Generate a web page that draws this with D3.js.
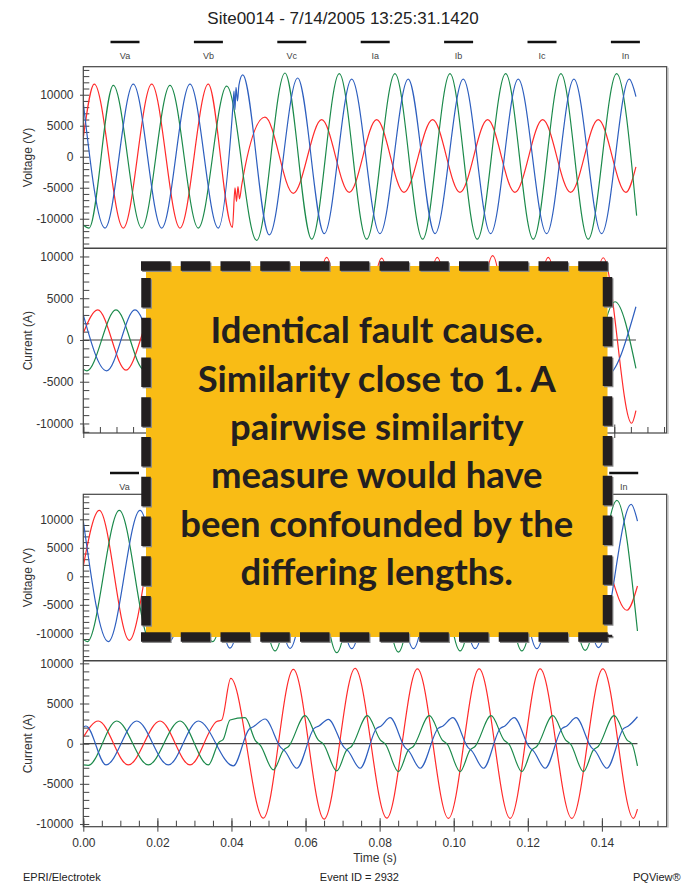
<!DOCTYPE html>
<html>
<head>
<meta charset="utf-8">
<script src="https://cdn.jsdelivr.net/npm/d3@7"></script>
<style>
  html, body { margin: 0; padding: 0; background: #fff; }
  svg { display: block; font-family: "Liberation Sans", Arial, sans-serif; }
</style>
</head>
<body>
<div id="app"></div>
<script>
// ---- data: [time (s), value] turning points ----
const TITLE = 'Site0014 - 7/14/2005 13:25:31.1420';
const legendLabels = ['Va', 'Vb', 'Vc', 'Ia', 'Ib', 'Ic', 'In'];
const valueTicks = [-10000, -5000, 0, 5000, 10000];
const timeTicks = [0, 0.02, 0.04, 0.06, 0.08, 0.10, 0.12, 0.14];
const boxLines = ['Identical fault cause.', 'Similarity close to 1. A', 'pairwise similarity',
  'measure would have', 'been confounded by the', 'differing lengths.'];

// upper event
const topVa = [[0, 3060], [0.00331, 11700], [0.01205, -11500], [0.02061, 11700], [0.02914, -11500],
  [0.03766, 11700], [0.04495, -11400], [0.04571, -5000], [0.04616, -7200], [0.04661, -4800],
  [0.04706, -6800], [0.04773, -4600], [0.05475, 6400], [0.06327, -5900], [0.07183, 5970],
  [0.08014, -5750], [0.0884, 5970], [0.09663, -5750], [0.10527, 5970], [0.1135, -5750],
  [0.12184, 5970], [0.13007, -5750], [0.13842, 5970], [0.14685, -5750], [0.15517, 5970],
  [0.16351, -5750], [0.16653, -1650]];
const topVb = [[0, -11000], [0.00172, -11500], [0.00904, 11500], [0.0176, -11500], [0.02612, 11500],
  [0.03465, -11500], [0.04321, 11400], [0.05225, -13500], [0.06077, 13500], [0.06882, -13300],
  [0.07713, 13400], [0.08539, -13300], [0.09391, 13400], [0.10226, -13300], [0.11049, 13400],
  [0.11871, -13300], [0.12727, 13400], [0.13558, -13300], [0.14393, 13400], [0.15215, -13300],
  [0.16071, 13400], [0.16674, -9500]];
const topVc = [[0, 8700], [0.00654, -11500], [0.01506, 11700], [0.02362, -11500], [0.03215, 11700],
  [0.04067, -11500], [0.0451, 8200], [0.04541, 10600], [0.04571, 7600], [0.04601, 11200],
  [0.04646, 9000], [0.04691, 11600], [0.04803, 13200], [0.05604, -12600], [0.0646, 12700],
  [0.07261, -12400], [0.08087, 12500], [0.08939, -12400], [0.09792, 12500], [0.10597, -12400],
  [0.11449, 12500], [0.12275, -12400], [0.13106, 12500], [0.13962, -12400], [0.14784, 12500],
  [0.15619, -12400], [0.16451, 12500], [0.16653, 9700]];
const topIa = [[0, 840], [0.00434, 3600], [0.01287, -3600], [0.02151, 3600], [0.03004, -3600],
  [0.03869, 3600], [0.04721, -3600], [0.05655, 8500], [0.06499, -9500], [0.07334, 9900],
  [0.08156, -9900], [0.08991, 9800], [0.09828, -9900], [0.10666, 9900], [0.115, -9950],
  [0.12335, 10100], [0.13173, -9900], [0.1401, 9900], [0.14845, -9950], [0.15667, 9850],
  [0.16523, -9970], [0.16653, -8450]];
const topIb = [[0, -3500], [0.00111, -3700], [0.00985, 3600], [0.01844, -3600], [0.02703, 3600],
  [0.03561, -3600], [0.0442, 3600], [0.05143, -4200], [0.05987, 4500], [0.06815, -4500],
  [0.07659, 4500], [0.08488, -4500], [0.09331, 4500], [0.1016, -4500], [0.11003, 4500],
  [0.11832, -4500], [0.12675, 4500], [0.13504, -4500], [0.14348, 4500], [0.15176, -4500],
  [0.1602, 4580], [0.16653, -3390]];
const topIc = [[0, 3000], [0.00705, -3700], [0.01558, 3600], [0.02416, -3600], [0.03275, 3600],
  [0.04134, -3600], [0.04902, 4000], [0.05746, -4200], [0.06574, 4200], [0.07418, -4200],
  [0.08247, 4200], [0.0909, -4200], [0.09919, 4200], [0.10762, -4200], [0.11591, 4200],
  [0.12435, -4200], [0.13263, 4200], [0.14107, -4200], [0.14935, 4200], [0.15779, -4200],
  [0.16653, 3980]];

// lower event
const botVa = [[0, 1800], [0.00432, 11580], [0.01242, -11230], [0.02085, 11580], [0.02922, -11300],
  [0.03759, 11500], [0.0468, -6000], [0.05514, 6000], [0.06346, -6000], [0.07175, 6000],
  [0.08012, -6000], [0.08844, 6000], [0.09676, -6000], [0.1051, 6000], [0.11342, -6000],
  [0.12171, 6000], [0.13008, -6000], [0.1384, 6000], [0.14675, -5960], [0.14961, -1700]];
const botVb = [[0, -11050], [0.00108, -11460], [0.00972, 11580], [0.01815, -11460], [0.02652, 11580],
  [0.03489, -11460], [0.0434, 12500], [0.05177, -13100], [0.06014, 13300], [0.06843, -13400],
  [0.07675, 13300], [0.08507, -13300], [0.09336, 13300], [0.10173, -13100], [0.1101, 13300],
  [0.11839, -13100], [0.12692, 13300], [0.13549, -13000], [0.14405, 13330], [0.14961, -9600]];
const botVc = [[0, 9700], [0.00675, -11460], [0.01531, 11580], [0.02341, -11300], [0.03178, 11580],
  [0.03962, -12600], [0.04772, 12600], [0.05582, -12630], [0.06419, 12600], [0.07248, -12700],
  [0.0808, 12600], [0.08912, -12700], [0.09741, 12600], [0.10578, -12700], [0.11415, 12600],
  [0.12244, -12700], [0.13076, 12600], [0.13908, -12500], [0.14791, 12630], [0.14961, 9700]];
const botIa = [[0, 800], [0.00405, 2820], [0.01215, -2650], [0.02071, 2820], [0.02881, -2650],
  [0.03602, 2750], [0.03737, 2950], [0.03981, 8120], [0.04861, -9270], [0.05671, 9240],
  [0.065, -9390], [0.07337, 9370], [0.08193, -9270], [0.0902, 9300], [0.09857, -9300],
  [0.10686, 9300], [0.11523, -9300], [0.12333, 9300], [0.13189, -9300], [0.14027, 9300],
  [0.14853, -9300], [0.14961, -8150]];
const botIb = [[0, -2650], [0.00135, -2700], [0.00902, 2820], [0.01755, -2650], [0.02611, 2820],
  [0.03376, -2650], [0.03665, 200], [0.03773, 500], [0.03962, 2940], [0.04367, 3230],
  [0.0465, 350], [0.0478, -200], [0.05131, -3270], [0.05405, -800], [0.05542, -350],
  [0.05987, 3480], [0.06347, 450], [0.06483, -50], [0.06843, -3400], [0.0711, -800],
  [0.07239, -350], [0.07669, 3480], [0.08021, 450], [0.08155, -50], [0.08507, -3480],
  [0.08775, -800], [0.08909, -350], [0.09344, 3480], [0.09692, 450], [0.09825, -50],
  [0.10173, -3480], [0.10441, -800], [0.10575, -350], [0.1101, 3480], [0.11358, 450],
  [0.11491, -50], [0.11839, -3480], [0.12107, -800], [0.12241, -350], [0.12676, 3480],
  [0.13023, 450], [0.13156, -50], [0.13503, -3480], [0.13768, -800], [0.139, -350],
  [0.14332, 3480], [0.1468, 450], [0.14813, -50], [0.14961, -2770]];
const botIc = [[0, 2040], [0.00073, 2200], [0.00613, -2650], [0.01442, 2820], [0.02295, -2650],
  [0.03106, 2820], [0.04051, -2770], [0.04475, 1800], [0.04591, 2100], [0.04907, 3070],
  [0.05335, -500], [0.05438, -900], [0.05763, -3060], [0.06232, 1900], [0.0636, 2200],
  [0.06616, 3030], [0.07044, -500], [0.07147, -900], [0.07472, -3060], [0.07918, 1900],
  [0.0804, 2200], [0.08283, 3230], [0.08688, -500], [0.08785, -900], [0.09093, -3060],
  [0.09579, 1900], [0.09711, 2200], [0.09976, 3230], [0.10389, -500], [0.10488, -900],
  [0.10802, -3060], [0.11258, 1900], [0.11382, 2200], [0.11631, 3230], [0.1205, -500],
  [0.1215, -900], [0.12468, -3060], [0.12928, 1900], [0.13054, 2200], [0.13305, 3230],
  [0.1372, -500], [0.13819, -900], [0.14134, -3060], [0.1459, 1900], [0.14714, 2200],
  [0.14961, 3350]];

// ---- layout ----
const width = 684;
const height = 884;
const plotLeft = 83.3;
const plotRight = 666.7;
const phaseColors = ['#ff2b2b', '#1c8a4b', '#2e5fbf'];
const frameColor = '#444';
const textColor = '#333';
// the callout covers this area, so nothing textual is drawn beneath it
const callout = {left: 146, top: 266, right: 607.5, bottom: 637};

const svg = d3.select('#app')
  .append('svg')
  .attr('width', width)
  .attr('height', height);

svg.append('rect')
  .attr('width', width)
  .attr('height', height)
  .style('fill', '#fff');

function hiddenByCallout(x, y) {
  return x > callout.left - 10 && x < callout.right + 10 && y > callout.top - 8 && y < callout.bottom + 8;
}

function buildPanel(parent, id, series, xScale, top, bottom, yDomain, label, zeroLine, tEnd) {
  const y = d3.scaleLinear().domain(yDomain).range([bottom, top]);
  const panel = parent.append('g').attr('id', id);

  panel.append('clipPath')
    .attr('id', `${id}-clip`)
    .append('rect')
    .attr('x', plotLeft)
    .attr('y', top)
    .attr('width', plotRight - plotLeft)
    .attr('height', bottom - top);

  // small inside ticks every 1000
  const minor = d3.range(Math.ceil(yDomain[0] / 1000) * 1000, yDomain[1], 1000);
  panel.append('g')
    .attr('transform', `translate(${plotLeft},0)`)
    .call(d3.axisRight(y).tickValues(minor).tickSize(6).tickFormat(''))
    .call(g => g.select('.domain').remove())
    .call(g => g.selectAll('line').style('stroke', frameColor));

  // labelled ticks poke out on the left
  panel.append('g')
    .attr('transform', `translate(${plotLeft},0)`)
    .call(d3.axisLeft(y).tickValues(valueTicks).tickSize(3.3).tickPadding(6.5).tickFormat(d => String(d)))
    .call(g => g.select('.domain').remove())
    .call(g => g.selectAll('line').style('stroke', frameColor))
    .call(g => g.selectAll('text')
      .style('font-size', '12px')
      .style('fill', textColor)
      .style('font-family', '"Liberation Sans", Arial, sans-serif'));

  panel.append('text')
    .attr('transform', `translate(${28},${(top + bottom) / 2}) rotate(-90)`)
    .attr('text-anchor', 'middle')
    .attr('dominant-baseline', 'central')
    .style('font-size', '12px')
    .style('fill', textColor)
    .text(label);

  if (zeroLine) {
    panel.append('line')
      .attr('x1', xScale(0))
      .attr('x2', xScale(tEnd))
      .attr('y1', y(0))
      .attr('y2', y(0))
      .style('stroke', '#444')
      .style('stroke-width', 1.2);
  }

  const line = d3.line()
    .x(d => xScale(d[0]))
    .y(d => y(d[1]))
    .curve(d3.curveMonotoneX);

  panel.append('g')
    .attr('clip-path', `url(#${id}-clip)`)
    .selectAll('path')
    .data(series)
    .join('path')
    .attr('d', d => line(d))
    .style('fill', 'none')
    .style('stroke', (d, i) => phaseColors[i])
    .style('stroke-width', 1.2);

  return panel;
}

function buildChart(parent, cfg) {
  const chart = parent.append('g').attr('id', cfg.id);
  const x = d3.scaleLinear().domain([0, cfg.tMax]).range([plotLeft, plotRight]);

  // legend: short black bars with the channel names underneath
  const legendItems = legendLabels
    .map((d, i) => ({name: d, x: cfg.legendX + i * cfg.legendStep}))
    .filter(d => !hiddenByCallout(d.x, cfg.legendY + 13));
  const legend = chart.append('g').attr('class', 'legend');
  legend.selectAll('line')
    .data(legendItems)
    .join('line')
    .attr('x1', d => d.x - 14.5)
    .attr('x2', d => d.x + 14.5)
    .attr('y1', cfg.legendY)
    .attr('y2', cfg.legendY)
    .style('stroke', '#111')
    .style('stroke-width', 2.5);
  legend.selectAll('text')
    .data(legendItems)
    .join('text')
    .attr('x', d => d.x)
    .attr('y', cfg.legendY + 16.5)
    .attr('text-anchor', 'middle')
    .style('font-size', '9px')
    .style('fill', '#444')
    .text(d => d.name);

  buildPanel(chart, `${cfg.id}-v`, cfg.volts, x, cfg.vTop, cfg.vBottom, cfg.vDomain,
    'Voltage (V)', false, cfg.tEnd);
  buildPanel(chart, `${cfg.id}-i`, cfg.amps, x, cfg.vBottom, cfg.iBottom, cfg.iDomain,
    'Current (A)', true, cfg.tEnd);

  // time axis ticks: small ones every 5 ms, long ones every 20 ms
  const minorT = d3.range(0, cfg.tMax, 0.005);
  const majorT = d3.range(0, cfg.tMax, 0.02);
  chart.append('g')
    .attr('transform', `translate(0,${cfg.iBottom})`)
    .call(d3.axisTop(x).tickValues(minorT).tickSize(6).tickFormat(''))
    .call(g => g.select('.domain').remove())
    .call(g => g.selectAll('line').style('stroke', frameColor));
  chart.append('g')
    .attr('transform', `translate(0,${cfg.iBottom})`)
    .call(d3.axisTop(x).tickValues(majorT).tickSize(8.5).tickFormat(''))
    .call(g => g.select('.domain').remove())
    .call(g => g.selectAll('line').style('stroke', frameColor));
  const bottomAxis = chart.append('g')
    .attr('transform', `translate(0,${cfg.iBottom})`)
    .call(d3.axisBottom(x).tickValues(cfg.showLabels ? timeTicks : majorT).tickSize(5)
      .tickPadding(6.5).tickFormat(cfg.showLabels ? d3.format('.2f') : ''))
    .call(g => g.select('.domain').remove())
    .call(g => g.selectAll('line').style('stroke', frameColor));
  bottomAxis.selectAll('text')
    .style('font-size', '12px')
    .style('fill', textColor)
    .style('font-family', '"Liberation Sans", Arial, sans-serif');

  // frame round both panels
  chart.append('rect')
    .attr('x', plotLeft)
    .attr('y', cfg.vTop)
    .attr('width', plotRight - plotLeft)
    .attr('height', cfg.iBottom - cfg.vTop)
    .style('fill', 'none')
    .style('stroke', frameColor)
    .style('stroke-width', 1.2);
  chart.append('line')
    .attr('x1', plotLeft)
    .attr('x2', plotRight)
    .attr('y1', cfg.vBottom)
    .attr('y2', cfg.vBottom)
    .style('stroke', frameColor)
    .style('stroke-width', 1.4);
  chart.append('line')
    .attr('x1', plotRight + 1.3)
    .attr('x2', plotRight + 1.3)
    .attr('y1', cfg.vTop + 1)
    .attr('y2', cfg.iBottom + 1)
    .style('stroke', '#aaa')
    .style('stroke-width', 1);

  return chart;
}

// title of the upper event
svg.append('text')
  .attr('x', 343)
  .attr('y', 24)
  .attr('text-anchor', 'middle')
  .style('font-size', '17px')
  .style('fill', '#222')
  .text(TITLE);

buildChart(svg, {
  id: 'upper', tMax: 0.1758, tEnd: 0.16653, showLabels: false,
  legendX: 125, legendStep: 83.4, legendY: 42,
  vTop: 66.7, vBottom: 248.3, iBottom: 433,
  vDomain: [-14770, 14520], iDomain: [-11140, 10980],
  volts: [topVa, topVb, topVc], amps: [topIa, topIb, topIc]
});

buildChart(svg, {
  id: 'lower', tMax: 0.1575, tEnd: 0.14961, showLabels: true,
  legendX: 124.5, legendStep: 83.2, legendY: 473,
  vTop: 494.3, vBottom: 660.7, iBottom: 826.7,
  vDomain: [-14810, 14390], iDomain: [-10340, 10330],
  volts: [botVa, botVb, botVc], amps: [botIa, botIb, botIc]
});

svg.append('text')
  .attr('x', 375)
  .attr('y', 862)
  .attr('text-anchor', 'middle')
  .style('font-size', '12px')
  .style('fill', textColor)
  .text('Time (s)');

// footer
const footer = svg.append('g').style('font-size', '11px').style('fill', '#222');
footer.append('text').attr('x', 23).attr('y', 881).text('EPRI/Electrotek');
footer.append('text').attr('x', 399).attr('y', 881).attr('text-anchor', 'end').text('Event ID = 2932');
footer.append('text').attr('x', 633).attr('y', 881).text('PQView®');

// ---- annotation box ----
function buildCallout(parent, c) {
  const {left, top, right, bottom} = c;
  const box = parent.append('g').attr('id', 'callout');
  box.append('rect')
    .attr('x', left)
    .attr('y', top)
    .attr('width', right - left)
    .attr('height', bottom - top)
    .style('fill', '#f9bc15');

  const edges = [
    [left - 5, top, right + 5, top],
    [left - 5, bottom, right + 5, bottom],
    [left, top + 12, left, bottom],
    [right, top + 11, right, bottom]
  ];
  const dash = '29.5 10.25';
  // faint shadow first, then the black dashes
  box.selectAll('line.shadow')
    .data(edges)
    .join('line')
    .attr('class', 'shadow')
    .attr('x1', d => d[0] + 1.2).attr('y1', d => d[1] + 1.2)
    .attr('x2', d => d[2] + 1.2).attr('y2', d => d[3] + 1.2)
    .style('stroke', '#8a8a8a')
    .style('stroke-width', 9.5)
    .style('stroke-dasharray', dash);
  box.selectAll('line.dash')
    .data(edges)
    .join('line')
    .attr('class', 'dash')
    .attr('x1', d => d[0]).attr('y1', d => d[1])
    .attr('x2', d => d[2]).attr('y2', d => d[3])
    .style('stroke', '#231f20')
    .style('stroke-width', 9.5)
    .style('stroke-dasharray', dash);

  const cx = (left + right) / 2;
  const words = box.append('g')
    .style('font-family', 'Lato, "Open Sans", sans-serif')
    .style('font-weight', 700)
    .style('fill', '#231f20');
  const texts = words.selectAll('text')
    .data(boxLines)
    .join('text')
    .attr('x', cx)
    .attr('y', (d, i) => 343.3 + i * 48.35)
    .attr('text-anchor', 'middle')
    .style('font-size', '30px')
    .text(d => d);
  // size the text so the longest line matches the picture
  const widest = d3.max(texts.nodes(), n => n.getComputedTextLength());
  texts.style('font-size', `${(30 * 393 / widest).toFixed(2)}px`);
  return box;
}

buildCallout(svg, callout);
</script>
</body>
</html>
